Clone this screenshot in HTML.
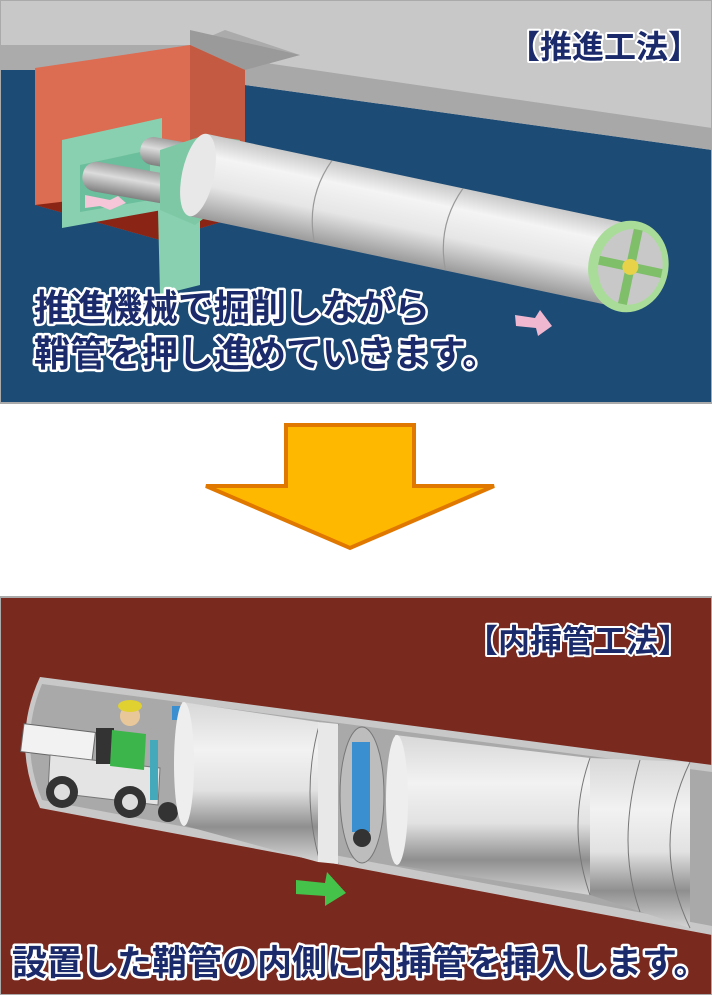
<!DOCTYPE html>
<html><head><meta charset="utf-8"><style>
html,body{margin:0;padding:0;background:#fff;}
svg{display:block;}
.t{font-family:"Liberation Sans","Noto Sans CJK JP",sans-serif;font-weight:bold;paint-order:stroke;stroke:#fff;stroke-linejoin:round;}
</style></head><body>
<svg width="712" height="995" viewBox="0 0 712 995" xmlns="http://www.w3.org/2000/svg">
<defs>
<linearGradient id="pg" x1="0" y1="0" x2="0" y2="1">
<stop offset="0" stop-color="#c9c9c9"/><stop offset="0.25" stop-color="#f4f4f4"/><stop offset="0.6" stop-color="#e6e6e6"/><stop offset="1" stop-color="#9a9a9a"/></linearGradient>
<linearGradient id="ig" x1="0" y1="0" x2="0" y2="1">
<stop offset="0" stop-color="#d8d8d8"/><stop offset="0.3" stop-color="#f2f2f2"/><stop offset="0.55" stop-color="#e2e2e2"/><stop offset="0.78" stop-color="#8f8f8f"/><stop offset="1" stop-color="#d4d4d4"/></linearGradient>
<linearGradient id="cg" x1="0" y1="0" x2="0" y2="1">
<stop offset="0" stop-color="#a0a0a0"/><stop offset="0.4" stop-color="#dcdcdc"/><stop offset="1" stop-color="#808080"/></linearGradient>
</defs>
<!-- top panel -->
<rect x="0" y="0" width="712" height="403" fill="#1c4b75"/>
<polygon points="0,0 712,0 712,150 245,85 245,60 0,60" fill="#c8c8c8"/>
<polygon points="245,60 712,128 712,150 245,85" fill="#a8a8a8"/>
<rect x="0" y="0" width="712" height="403" fill="none" stroke="#aaa" stroke-width="2"/>
<!-- pit -->
<polygon points="0,45 190,45 225,30 300,55 245,70 0,70" fill="#ababab"/>
<polygon points="190,30 300,55 245,70 190,45" fill="#9a9a9a"/>
<polygon points="35,68 190,45 245,70 245,215 160,240 35,205" fill="#dc6c52"/>
<polygon points="190,45 245,70 245,215 190,200" fill="#c45a42"/>
<polygon points="35,205 160,190 245,215 160,240" fill="#8a2415"/>
<!-- green frame -->
<polygon points="62,140 162,118 162,210 62,228" fill="#88d0b0"/>
<polygon points="80,165 150,150 150,200 80,212" fill="#6cbf9c"/>
<rect x="82" y="168" width="100" height="30" rx="14" fill="url(#cg)" transform="rotate(10 132 183)"/>
<rect x="140" y="140" width="60" height="28" rx="13" fill="url(#cg)" transform="rotate(10 170 154)"/>
<polygon points="158,210 200,200 200,285 160,295" fill="#88d0b0"/>
<polygon points="160,150 205,135 240,140 215,210 195,225 160,210" fill="#7ec8a6"/>
<polygon points="85,195 110,200 118,196 126,203 110,210 100,206 85,208" fill="#f4c6d8"/>
<!-- pipe -->
<g transform="translate(198,175) rotate(12)">
<rect x="0" y="-42" width="440" height="84" fill="url(#pg)"/>
<ellipse cx="0" cy="0" rx="16" ry="42" fill="#e8e8e8"/>
<path d="M128,-42 Q110,0 128,42 M262,-42 Q244,0 262,42" fill="none" stroke="#999" stroke-width="1.2"/>
<ellipse cx="440" cy="0" rx="40" ry="46" fill="#a9dc99"/>
<ellipse cx="442" cy="0" rx="32" ry="38" fill="#c8c8c8"/>
<path d="M442,-38 V38 M410,0 H474" stroke="#7fbf6a" stroke-width="9"/>
<circle cx="442" cy="0" r="8" fill="#e8d24a"/>
</g>
<polygon points="515,315 535,318 540,310 552,326 538,336 536,328 516,326" fill="#f0b8d0"/>
<text class="t" x="34" y="320" font-size="36" fill="#1a2a6a" stroke-width="5">推進機械で掘削しながら</text>
<text class="t" x="34" y="366" font-size="36" fill="#1a2a6a" stroke-width="5">鞘管を押し進めていきます。</text>
<text class="t" x="508" y="58" font-size="32" fill="#1a2a6a" stroke-width="4">【推進工法】</text>
<!-- arrow -->
<polygon points="286,425 414,425 414,486 494,486 350,548 206,486 286,486" fill="#ffb800" stroke="#e07800" stroke-width="4" stroke-linejoin="miter"/>
<!-- bottom panel -->
<rect x="0" y="597" width="712" height="398" fill="#7a291f"/>
<rect x="0" y="597" width="712" height="398" fill="none" stroke="#aaa" stroke-width="2"/>
<!-- tunnel -->
<path d="M40,677 L712,765 L712,935 L40,808 Q10,742 40,677 Z" fill="#c8c8c8"/>
<path d="M42,684 L712,772 L712,926 L42,800 Q18,742 42,684 Z" fill="#a9a9a9"/>
<!-- vehicle -->
<rect x="22" y="728" width="72" height="28" fill="#f2f2f2" stroke="#666" transform="rotate(7 58 742)"/>
<polygon points="50,755 160,768 158,805 48,792" fill="#e4e4e4" stroke="#777"/>
<circle cx="62" cy="792" r="16" fill="#333"/><circle cx="62" cy="792" r="8" fill="#ddd"/>
<circle cx="130" cy="802" r="16" fill="#333"/><circle cx="130" cy="802" r="8" fill="#ddd"/>
<rect x="96" y="728" width="18" height="36" fill="#333"/>
<polygon points="112,730 146,734 144,770 110,766" fill="#3cb54a"/>
<circle cx="130" cy="716" r="10" fill="#e8c89a"/>
<ellipse cx="130" cy="706" rx="12" ry="6" fill="#e0d030"/>
<rect x="150" y="740" width="8" height="60" fill="#44aabb"/>
<circle cx="168" cy="812" r="10" fill="#333"/>
<rect x="172" y="706" width="20" height="14" fill="#3a8fd0"/>
<!-- pipe 1 -->
<polygon points="182,702 318,722 318,862 182,825" fill="url(#ig)"/>
<ellipse cx="184" cy="764" rx="10" ry="62" fill="#eee"/>
<path d="M320,722 Q300,792 320,862 M338,724 Q318,794 338,864" fill="none" stroke="#777"/>
<polygon points="318,722 338,724 338,864 318,862" fill="#e8e8e8"/>
<!-- gap -->
<ellipse cx="362" cy="795" rx="22" ry="68" fill="#bdbdbd" stroke="#777"/>
<rect x="352" y="742" width="18" height="90" fill="#3a8fd0"/>
<circle cx="362" cy="838" r="9" fill="#333"/>
<!-- pipe 2 -->
<polygon points="395,735 590,758 590,895 395,865" fill="url(#ig)"/>
<ellipse cx="397" cy="800" rx="11" ry="65" fill="#eee"/>
<polygon points="590,758 690,762 690,928 590,895" fill="url(#ig)"/>
<path d="M590,758 Q566,826 590,895 M640,760 Q616,844 640,912 M690,762 Q650,845 690,928" fill="none" stroke="#777"/>
<polygon points="296,880 325,883 327,872 346,893 325,906 325,896 296,894" fill="#44c24a"/>
<text class="t" x="466" y="652" font-size="32" fill="#1a2a6a" stroke-width="4">【内挿管工法】</text>
<text class="t" x="12" y="975" font-size="35" fill="#1a2a6a" stroke-width="5">設置した鞘管の内側に内挿管を挿入します。</text>
</svg>
</body></html>
